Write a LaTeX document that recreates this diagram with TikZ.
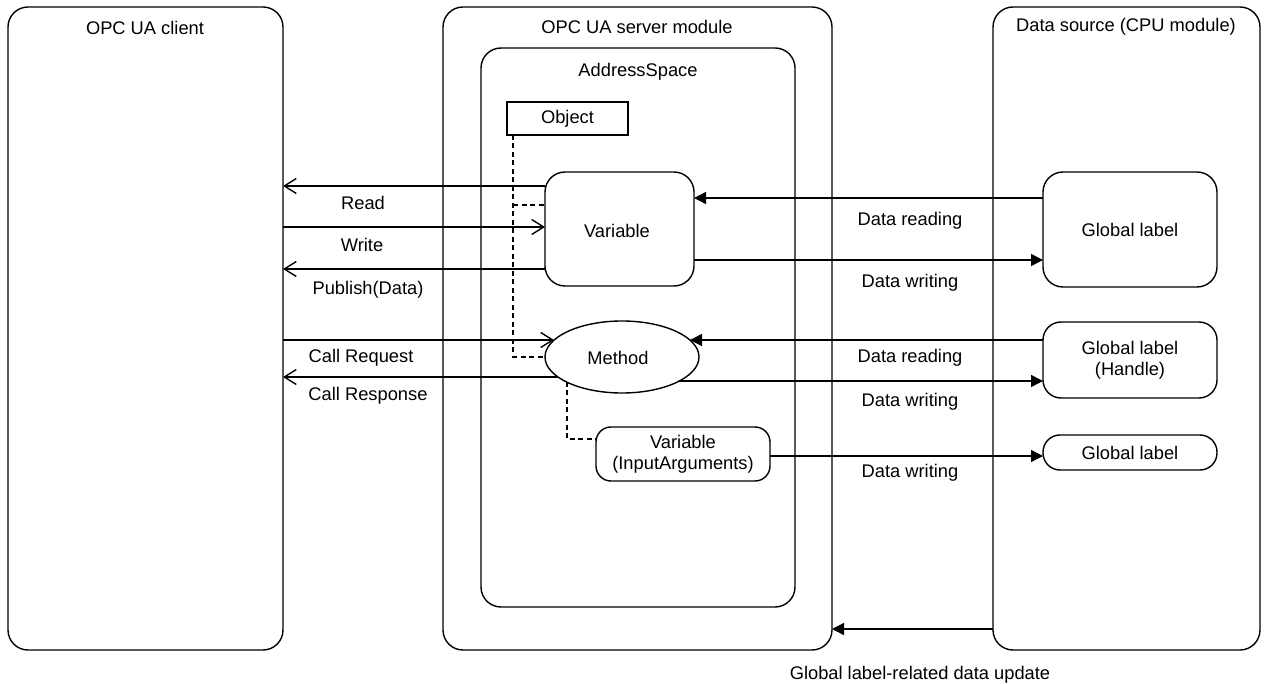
\documentclass[tikz,border=0pt]{standalone}
\usepackage{fontspec}
\setmainfont{Liberation Sans}
\usetikzlibrary{arrows.meta,shapes.geometric,calc}
\begin{document}
\begin{tikzpicture}[x=1pt,y=-1pt,
  every node/.style={font=\fontsize{18.3}{21}\selectfont, inner sep=0pt, outer sep=0pt},
  box/.style={draw, line width=1.4pt, rounded corners=#1},
  box/.default=20pt,
  ln/.style={line width=1.4pt},
  openarr/.style={ln, -{Straight Barb[length=12pt,width=15pt,line width=1.4pt]}},
  fillarr/.style={ln, -{Triangle[length=12pt,width=12pt]}},
  dsh/.style={line width=1.4pt, dash pattern=on 5pt off 3.5pt},
  lbl/.style={align=center}]
\useasboundingbox (0,0) rectangle (1269,684);
% containers
\node[box, minimum width=275pt, minimum height=643pt] (client) at (145.5,328.5) {};
\node[box, minimum width=389pt, minimum height=643pt] (server) at (637.5,328.5) {};
\node[box, minimum width=314pt, minimum height=559pt] (addr) at (638,327.5) {};
\node[box, minimum width=267pt, minimum height=643pt] (src) at (1126.5,328.5) {};
\node (tclient) at (145,28) {OPC UA client};
\node (tserver) at (637,27) {OPC UA server module};
\node (taddr) at (638,72) {AddressSpace};
\node (tsrc) at (1126,27) {Data source (CPU module)};
% inner nodes
\node[draw, line width=1.4pt, minimum width=121pt, minimum height=33pt] (obj) at (567.5,118.5) {Object};
\node[box=20pt, minimum width=149pt, minimum height=114pt] (var) at (619.5,229) {};
\node (tvar) at (617,231) {Variable};
\node[draw, line width=1.4pt, ellipse, minimum width=154pt, minimum height=72pt] (meth) at (622,357) {};
\node (tmeth) at (618,358) {Method};
\node[box=15pt, minimum width=174pt, minimum height=54pt, lbl] (inp) at (683,454) {Variable\\(InputArguments)};
\node[box=20pt, minimum width=174pt, minimum height=115pt] (gl1) at (1130,229.5) {Global label};
\node[box=18pt, minimum width=174pt, minimum height=76pt, lbl] (gl2) at (1130,360) {Global label\\(Handle)};
\node[box=17pt, minimum width=174pt, minimum height=35pt] (gl3) at (1130,452.5) {Global label};
% points on the ellipse
\coordinate (mL1) at ($(meth.center)+(-68,-17)$);
\coordinate (mL2) at ($(meth.center)+(-64,20)$);
\coordinate (mR1) at ($(meth.center)+(68,-17)$);
\coordinate (mR2) at ($(meth.center)+(57.4,24)$);
\coordinate (mB) at ($(meth.center)+(-55,25)$);
% client side arrows
\draw[openarr] (var.west |- 0,186) -- (client.east |- 0,186);
\draw[openarr] (client.east |- 0,227) -- (var.west |- 0,227);
\draw[openarr] (var.west |- 0,269) -- (client.east |- 0,269);
\node (lread) at (363,203) {Read};
\node (lwrite) at (362,245) {Write};
\node (lpub) at (368,290) {Publish(Data)};
\draw[openarr] (client.east |- mL1) -- (mL1);
\draw[openarr] (mL2) -- (client.east |- mL2);
\node (lcreq) at (361,358) {Call Request};
\node (lcres) at (368,396) {Call Response};
% dashed relations
\coordinate (od) at ([xshift=6pt]obj.south west);
\draw[dsh] (od) -- (od |- meth.west) -- (meth.west);
\draw[dsh] (od |- 0,205) -- (var.west |- 0,205);
\draw[dsh] (mB) -- (mB |- 0,439) -- (inp.west |- 0,439);
% data source arrows
\draw[fillarr] (gl1.west |- 0,198) -- (var.east |- 0,198);
\draw[fillarr] (var.east |- 0,260) -- (gl1.west |- 0,260);
\node (ldr1) at (910,221) {Data reading};
\node (ldw1) at (910,283) {Data writing};
\draw[fillarr] (gl2.west |- mR1) -- (mR1);
\draw[fillarr] (mR2) -- (gl2.west |- mR2);
\node (ldr2) at (910,358) {Data reading};
\node (ldw2) at (910,402) {Data writing};
\draw[fillarr] (inp.east |- 0,456) -- (gl3.west |- 0,456);
\node (ldw3) at (910,473) {Data writing};
\draw[fillarr] (src.west |- 0,629) -- (server.east |- 0,629);
\node (lupd) at (920,675) {Global label-related data update};
\end{tikzpicture}
\end{document}
